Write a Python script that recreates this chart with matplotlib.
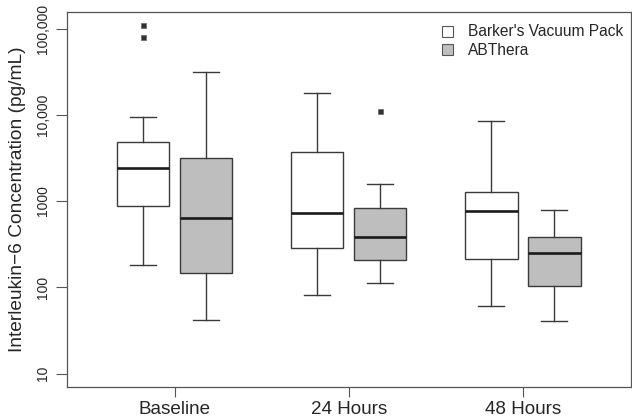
import matplotlib
matplotlib.use("Agg")
import matplotlib.pyplot as plt
from matplotlib.patches import Patch
from matplotlib.ticker import FixedLocator, NullLocator

plt.rcParams['font.family'] = ['Liberation Sans', 'DejaVu Sans']

# ---- data (pg/mL) ----
timepoints = ["Baseline", "24 Hours", "48 Hours"]
groups = ["Barker's Vacuum Pack", "ABThera"]

barker_whislo = [181, 82, 61]
barker_q1 = [875, 282, 214]
barker_med = [2400, 726, 771]
barker_q3 = [4840, 3740, 1270]
barker_whishi = [9530, 18100, 8500]
barker_fliers = [[108700, 78900], [], []]

abthera_whislo = [41.5, 112, 41]
abthera_q1 = [145, 205, 103]
abthera_med = [640, 385, 251]
abthera_q3 = [3130, 829, 385]
abthera_whishi = [31300, 1575, 785]
abthera_fliers = [[], [11200], []]

yticks = [10, 100, 1000, 10000, 100000]
yticklabels = ["10", "100", "1000", "10,000", "100,000"]

# ---- style ----
W, H = 632, 417
fig = plt.figure(figsize=(W / 100, H / 100), dpi=100)
ax = fig.add_axes([66.7 / W, 1 - 387.3 / H, (630.7 - 66.7) / W, (387.3 - 11.7) / H])

text_col = '#262626'
edge_col = '#3a3a3a'
fill_cols = ['white', '#bebebe']
offset = 0.181
bw = 0.30

def stats(wl, q1, med, q3, wh, fl):
    return [dict(whislo=a, q1=b, med=c, q3=d, whishi=e, fliers=f)
            for a, b, c, d, e, f in zip(wl, q1, med, q3, wh, fl)]

series = [
    stats(barker_whislo, barker_q1, barker_med, barker_q3, barker_whishi, barker_fliers),
    stats(abthera_whislo, abthera_q1, abthera_med, abthera_q3, abthera_whishi, abthera_fliers),
]

for i, st in enumerate(series):
    pos = [k + 1 + (-offset if i == 0 else offset) for k in range(len(timepoints))]
    ax.bxp(st, positions=pos, widths=bw, patch_artist=True, showfliers=True,
           capwidths=bw * 0.5,
           boxprops=dict(facecolor=fill_cols[i], edgecolor=edge_col, linewidth=1.0),
           medianprops=dict(color='#1a1a1a', linewidth=1.9, solid_capstyle='butt'),
           whiskerprops=dict(color=edge_col, linewidth=1.0),
           capprops=dict(color=edge_col, linewidth=1.0),
           flierprops=dict(marker='s', markersize=3.6, markerfacecolor='#333333',
                           markeredgecolor='#666666', markeredgewidth=0.5, linestyle='none'))

ax.set_yscale('log')
ax.set_ylim(10 ** 0.84, 10 ** 5.195)
ax.set_xlim(1 - (174.5 - 66.7) / 174.0, 3 + (630.7 - 523.0) / 174.0)

ax.yaxis.set_major_locator(FixedLocator(yticks))
ax.yaxis.set_minor_locator(NullLocator())
ax.set_yticklabels(yticklabels, rotation=90, va='center', fontsize=10, color=text_col)
ax.set_xticks([1, 2, 3])
ax.set_xticklabels(timepoints, fontsize=13.6, color=text_col)

ax.tick_params(axis='y', length=8, width=0.8, color='#555555', pad=4)
ax.tick_params(axis='x', length=7, width=0.8, color='#555555', pad=3)

for sp in ax.spines.values():
    sp.set_color('#555555')
    sp.set_linewidth(0.9)

ax.set_ylabel("Interleukin\u22126 Concentration (pg/mL)", fontsize=13.8, color=text_col, labelpad=7)

handles = [Patch(facecolor=fill_cols[i], edgecolor='#555555', linewidth=0.8) for i in range(2)]
leg = ax.legend(handles, groups, loc='upper right',
                bbox_to_anchor=(623 / W, 1 - 24.5 / H), bbox_transform=fig.transFigure,
                frameon=False, fontsize=11.2, borderpad=0, borderaxespad=0,
                handlelength=0.72, handleheight=0.72, handletextpad=0.95, labelspacing=0.2)
for t in leg.get_texts():
    t.set_color(text_col)

fig.savefig("out.png", dpi=100)
